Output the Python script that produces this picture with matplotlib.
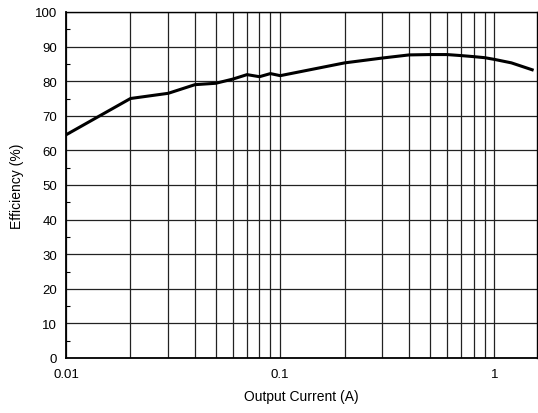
import matplotlib
matplotlib.use("Agg")
import matplotlib.pyplot as plt
from matplotlib.ticker import FixedLocator, NullFormatter, MultipleLocator

plt.rcParams['font.family'] = ['Liberation Sans', 'DejaVu Sans']

current = [0.01, 0.02, 0.03, 0.04, 0.05, 0.06, 0.07, 0.08, 0.09, 0.1,
           0.2, 0.3, 0.4, 0.5, 0.6, 0.7, 0.8, 0.9, 1.0, 1.2, 1.5]
efficiency = [64.5, 75.0, 76.5, 79.0, 79.4, 80.6, 81.9, 81.3, 82.2, 81.6,
              85.3, 86.7, 87.6, 87.7, 87.7, 87.4, 87.1, 86.8, 86.3, 85.3, 83.3]
x_ticks = [0.01, 0.1, 1]
x_tick_labels = ["0.01", "0.1", "1"]

fig = plt.figure(figsize=(5.38, 4.14), dpi=100)
ax = fig.add_axes([66/538, 55/414, (537-66)/538, (359-13)/414])

ax.plot(current, efficiency, color='black', linewidth=2.2, zorder=3)

ax.set_xscale('log')
ax.set_xlim(0.01, 1.58)
ax.set_ylim(0, 100)

ax.set_xticks(x_ticks)
ax.set_xticklabels(x_tick_labels)
minor = [m * d for d in (0.01, 0.1, 1) for m in range(2, 10)]
ax.xaxis.set_minor_locator(FixedLocator([v for v in minor if v < 1.58]))
ax.xaxis.set_minor_formatter(NullFormatter())
ax.yaxis.set_major_locator(MultipleLocator(10))
ax.yaxis.set_minor_locator(MultipleLocator(5))

ax.grid(True, which='major', axis='both', color='#222222', linewidth=0.9)
ax.grid(True, which='minor', axis='x', color='#222222', linewidth=0.9)

ax.tick_params(axis='x', which='both', length=0, labelsize=9.5, pad=7.5)
ax.tick_params(axis='y', which='major', length=0, labelsize=9.5, pad=6.5)
ax.tick_params(axis='y', which='minor', direction='in', length=3, width=0.8)

for s in ('left', 'bottom'):
    ax.spines[s].set_linewidth(1.3)
for s in ('top', 'right'):
    ax.spines[s].set_linewidth(1.0)

ax.set_xlabel('Output Current (A)', fontsize=10, labelpad=6)
ax.set_ylabel('Efficiency (%)', fontsize=10, labelpad=8)

fig.savefig('out.png', dpi=100)
